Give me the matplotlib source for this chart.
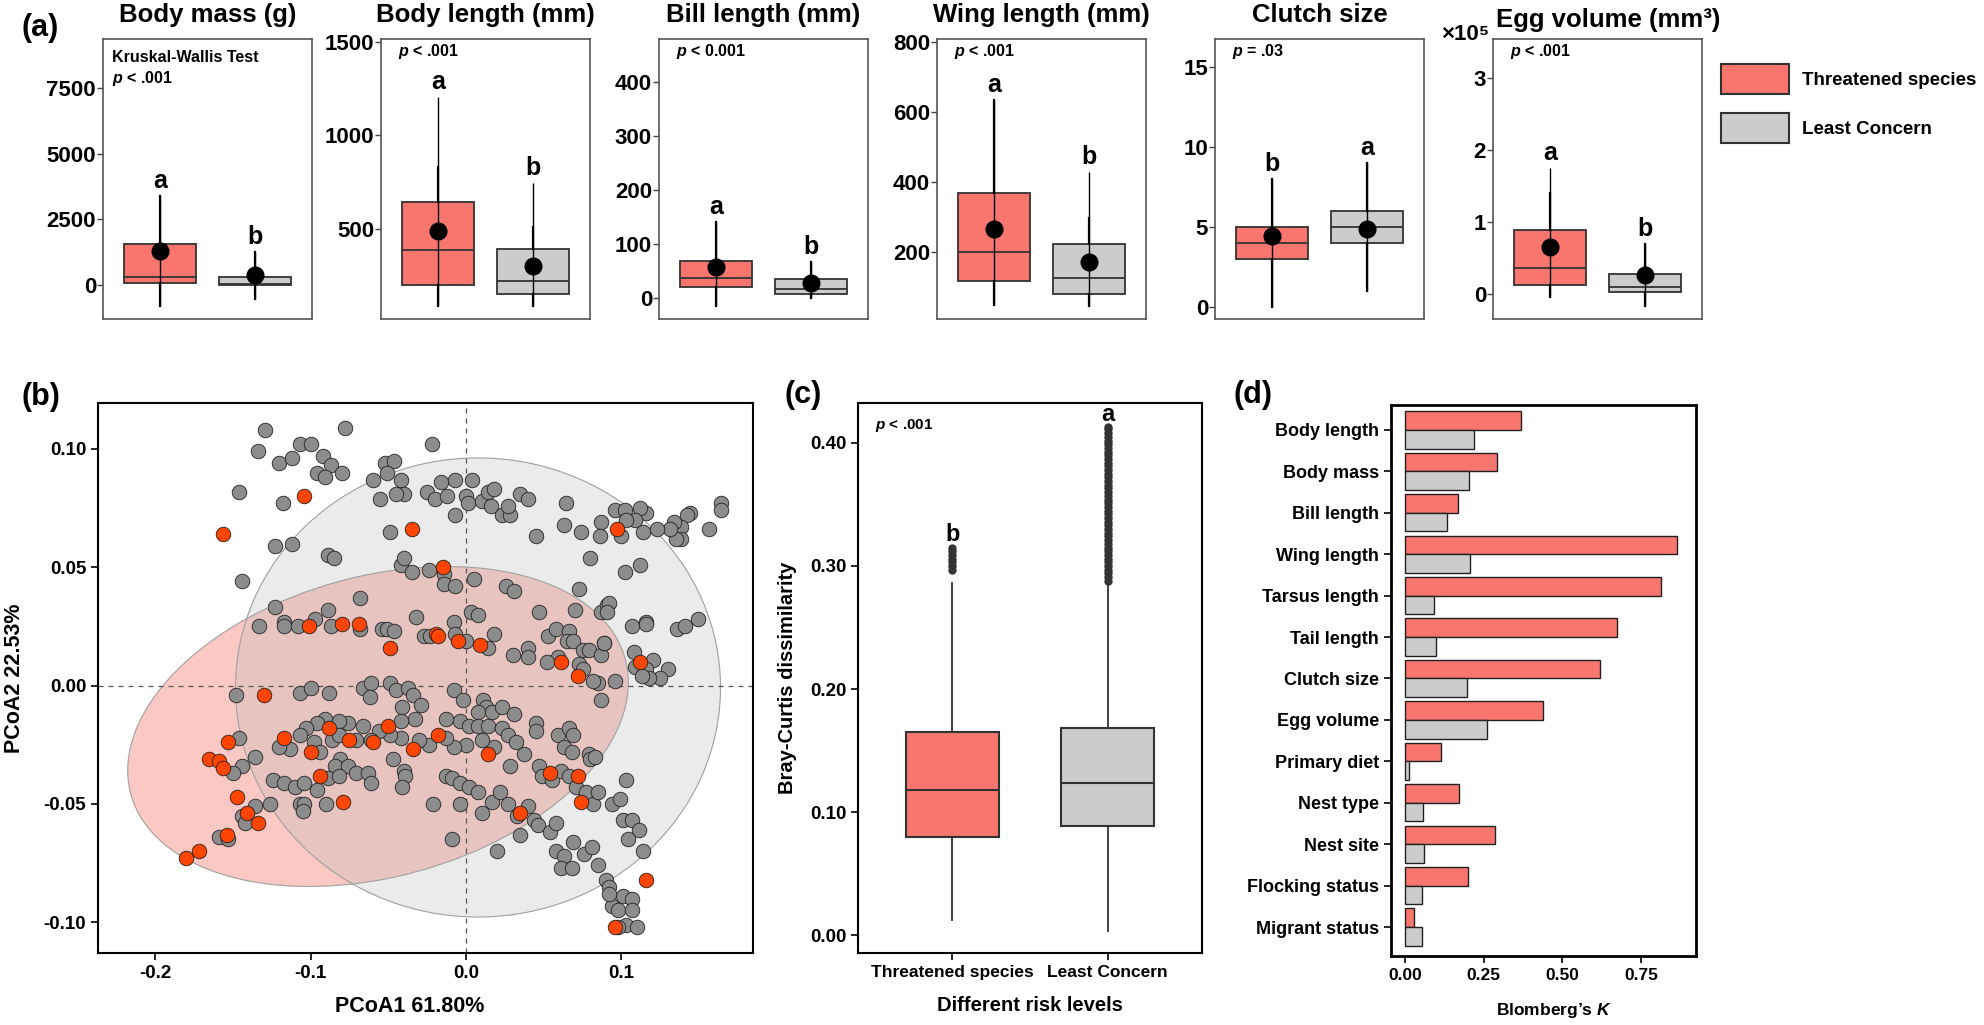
import numpy as np
import matplotlib.pyplot as plt
from matplotlib.patches import Ellipse, Patch

plt.rcParams['font.family'] = ['Liberation Sans', 'DejaVu Sans']
plt.rcParams['font.weight'] = 'bold'
plt.rcParams['axes.unicode_minus'] = False
plt.rcParams['mathtext.fontset'] = 'custom'
plt.rcParams['mathtext.rm'] = 'Liberation Sans:bold'
plt.rcParams['mathtext.it'] = 'Liberation Sans:italic:bold'
plt.rcParams['mathtext.bf'] = 'Liberation Sans:bold'

RED = '#F8766D'
GREY = '#CCCCCC'
EDGE = '#333333'

# ---------------- (a) trait boxplots ----------------
traits = ["Body mass (g)", "Body length (mm)", "Bill length (mm)",
          "Wing length (mm)", "Clutch size", "Egg volume (mm³)"]
thr_q1 = [76, 203, 20, 117, 3, 0.125]
thr_med = [304, 389, 37, 200, 4, 0.36]
thr_q3 = [1560, 645, 68.5, 369, 5, 0.89]
thr_mean = [1294, 490, 57, 266, 4.44, 0.65]
thr_lo = [-800, 91, -15, 50, 0, -0.05]
thr_hi = [3387, 1205, 141, 634, 8, 1.75]
thr_whi = [3387, 832, 141, 634, 8, 1.4]
lc_q1 = [10, 155, 8, 80, 4, 0.03]
lc_med = [38, 224, 17, 126, 5, 0.09]
lc_q3 = [304, 394, 35, 223, 6, 0.27]
lc_mean = [380, 304, 28, 171, 4.9, 0.26]
lc_lo = [-533, 91, 0, 45, 1, -0.17]
lc_hi = [1256, 746, 67, 429, 9, 0.69]
lc_whi = [1256, 512, 67, 297, 9, 0.69]
letters_thr = ['a', 'a', 'a', 'a', 'b', 'a']
letters_lc = ['b', 'b', 'b', 'b', 'a', 'b']
p_texts = ['$p$ < .001', '$p$ < .001', '$p$ < 0.001', '$p$ < .001', '$p$ = .03', '$p$ < .001']
ylims = [(-1294, 9360), (21, 1514), (-39, 480), (9, 808), (-0.75, 16.75), (-0.35, 3.54)]
yticks = [[0, 2500, 5000, 7500], [500, 1000, 1500], [0, 100, 200, 300, 400],
          [200, 400, 600, 800], [0, 5, 10, 15], [0, 1, 2, 3]]

# ---------------- (b) PCoA points ----------------
lc_pts = [
    (-0.129, 0.108), (-0.078, 0.109), (-0.134, 0.099), (-0.107, 0.102), (-0.100, 0.102), (-0.120, 0.094),
    (-0.112, 0.096), (-0.092, 0.097), (-0.087, 0.093), (-0.096, 0.090), (-0.091, 0.088), (-0.080, 0.090),
    (-0.146, 0.082), (-0.118, 0.077), (-0.022, 0.102), (-0.052, 0.094), (-0.046, 0.095), (-0.051, 0.090),
    (-0.060, 0.087), (-0.042, 0.087), (-0.040, 0.081), (-0.045, 0.081), (-0.055, 0.079), (-0.025, 0.082),
    (-0.020, 0.079), (-0.016, 0.086), (-0.007, 0.087), (-0.012, 0.080), (0.004, 0.087), (0.000, 0.080),
    (0.001, 0.077), (-0.007, 0.072), (0.010, 0.078), (0.014, 0.082), (0.018, 0.083), (0.016, 0.076),
    (0.023, 0.072), (0.028, 0.072), (0.027, 0.076), (0.035, 0.081), (0.040, 0.079), (0.064, 0.077),
    (0.063, 0.068), (0.074, 0.065), (0.087, 0.069), (0.086, 0.063), (0.045, 0.063), (0.080, 0.054),
    (0.096, 0.074), (-0.049, 0.065), (-0.123, 0.059), (-0.112, 0.060), (-0.089, 0.055), (-0.085, 0.054),
    (-0.144, 0.044), (-0.042, 0.051), (-0.040, 0.054), (-0.035, 0.048), (-0.024, 0.049), (-0.014, 0.047),
    (-0.014, 0.043), (-0.007, 0.042), (0.005, 0.045), (0.026, 0.042), (0.031, 0.040), (0.073, 0.041),
    (-0.068, 0.037), (-0.123, 0.033), (-0.089, 0.032), (-0.032, 0.029), (-0.008, 0.027), (-0.007, 0.022),
    (0.003, 0.031), (0.008, 0.030), (0.047, 0.031), (0.070, 0.032), (0.087, 0.031), (0.091, 0.034),
    (-0.133, 0.025), (-0.117, 0.027), (-0.117, 0.025), (-0.108, 0.025), (-0.097, 0.028), (-0.087, 0.025),
    (-0.068, 0.024), (-0.054, 0.024), (-0.051, 0.024), (-0.046, 0.023), (-0.027, 0.021), (-0.023, 0.021),
    (0.000, 0.019), (0.018, 0.022), (0.014, 0.016), (0.030, 0.013), (0.040, 0.016), (0.040, 0.012),
    (0.053, 0.021), (0.058, 0.024), (0.059, 0.012), (0.052, 0.010), (0.066, 0.023), (0.065, 0.019),
    (0.069, 0.019), (0.075, 0.015), (0.079, 0.015), (0.087, 0.013), (0.089, 0.018), (0.073, 0.009),
    (0.075, 0.007),
    (-0.148, -0.004), (-0.107, -0.003), (-0.100, -0.001), (-0.088, -0.003), (-0.066, -0.001), (-0.061, 0.001),
    (-0.062, -0.005), (-0.049, 0.001), (-0.045, -0.002), (-0.037, -0.001), (-0.034, -0.004), (-0.029, -0.008),
    (-0.041, -0.009), (-0.008, -0.002), (-0.002, -0.006), (0.011, -0.006), (0.013, -0.009), (0.008, -0.011),
    (0.017, -0.011), (0.023, -0.009), (0.031, -0.012), (-0.013, -0.014), (-0.004, -0.015), (0.002, -0.017),
    (0.008, -0.017), (0.014, -0.017), (0.023, -0.018), (0.027, -0.021), (0.032, -0.024), (0.045, -0.016),
    (0.045, -0.019), (0.059, -0.021), (0.066, -0.018), (0.069, -0.021), (0.063, -0.026), (0.068, -0.028),
    (0.079, -0.029), (0.080, -0.031), (0.037, -0.029), (0.028, -0.034), (0.018, -0.026), (0.010, -0.023),
    (0.000, -0.025), (-0.008, -0.026), (-0.013, -0.022), (-0.024, -0.025), (-0.030, -0.023), (-0.033, -0.014),
    (-0.042, -0.015), (-0.042, -0.022), (-0.049, -0.021), (-0.056, -0.019), (-0.066, -0.017), (-0.076, -0.016),
    (-0.082, -0.015), (-0.091, -0.014), (-0.096, -0.016), (-0.103, -0.018), (-0.107, -0.021), (-0.113, -0.027),
    (-0.120, -0.026), (-0.136, -0.030), (-0.146, -0.022), (-0.144, -0.034), (-0.150, -0.037), (-0.098, -0.024),
    (-0.094, -0.028), (-0.086, -0.023), (-0.082, -0.021), (-0.071, -0.023), (-0.061, -0.023), (-0.081, -0.031),
    (-0.084, -0.034), (-0.076, -0.034), (-0.071, -0.037), (-0.063, -0.037), (-0.061, -0.041), (-0.047, -0.031),
    (-0.040, -0.036), (-0.039, -0.038), (-0.041, -0.043), (-0.124, -0.040), (-0.117, -0.041), (-0.110, -0.043),
    (-0.104, -0.041), (-0.096, -0.044), (-0.089, -0.039), (-0.082, -0.038), (-0.126, -0.050), (-0.107, -0.050),
    (-0.104, -0.050), (-0.105, -0.053), (-0.090, -0.050), (-0.136, -0.051), (-0.144, -0.055), (-0.142, -0.058),
    (-0.159, -0.064), (-0.153, -0.065), (-0.013, -0.038), (-0.009, -0.039), (-0.004, -0.041), (0.002, -0.043),
    (0.008, -0.045), (-0.021, -0.050), (-0.004, -0.050), (0.010, -0.054), (0.017, -0.049), (0.022, -0.045),
    (0.027, -0.050), (0.033, -0.055), (0.040, -0.051), (0.044, -0.057), (0.035, -0.063), (0.046, -0.059),
    (0.054, -0.062), (0.058, -0.058), (0.058, -0.070), (0.063, -0.072), (0.069, -0.066), (0.061, -0.077),
    (0.068, -0.077), (0.076, -0.071), (0.081, -0.068), (0.085, -0.076), (0.090, -0.082), (0.092, -0.085),
    (0.094, -0.093), (-0.009, -0.065), (0.020, -0.070), (0.047, -0.034), (0.049, -0.038), (0.055, -0.040),
    (0.061, -0.036), (0.066, -0.038), (0.071, -0.043), (0.077, -0.045), (0.082, -0.050), (0.085, -0.045),
    (0.094, -0.050), (0.083, -0.030), (0.085, 0.001), (0.087, -0.006), (0.082, 0.002), (0.096, 0.002),
    (0.164, 0.077), (0.164, 0.074), (0.156, 0.066), (0.144, 0.073), (0.142, 0.072), (0.138, 0.067),
    (0.134, 0.069), (0.138, 0.062), (0.135, 0.062), (0.131, 0.066), (0.123, 0.066), (0.116, 0.073),
    (0.112, 0.075), (0.109, 0.070), (0.114, 0.065), (0.102, 0.074), (0.103, 0.070), (0.100, 0.063),
    (0.112, 0.051), (0.102, 0.048), (0.092, 0.035), (0.091, 0.031), (0.107, 0.025), (0.116, 0.027),
    (0.116, 0.026), (0.136, 0.024), (0.141, 0.025), (0.149, 0.028), (0.089, 0.018), (0.108, 0.014),
    (0.120, 0.011), (0.109, 0.008), (0.116, 0.007), (0.130, 0.007), (0.125, 0.003), (0.118, 0.003),
    (0.113, 0.004), (0.103, -0.040), (0.099, -0.048), (0.101, -0.057), (0.107, -0.057), (0.111, -0.061),
    (0.104, -0.065), (0.114, -0.070), (0.101, -0.089), (0.107, -0.090), (0.103, -0.101), (0.110, -0.102),
    (0.098, -0.095), (0.107, -0.095), (0.092, -0.088), (0.098, -0.102),
]
thr_pts = [
    (-0.104, 0.080), (-0.156, 0.064), (-0.035, 0.066), (-0.015, 0.050), (0.097, 0.066), (-0.101, 0.025),
    (-0.080, 0.026), (-0.069, 0.026), (-0.049, 0.016), (-0.019, 0.022), (-0.018, 0.021), (-0.005, 0.019),
    (0.009, 0.017), (0.061, 0.010), (0.072, 0.004), (-0.130, -0.004), (-0.153, -0.024), (-0.117, -0.022),
    (-0.100, -0.028), (-0.088, -0.018), (-0.075, -0.023), (-0.060, -0.024), (-0.050, -0.017), (-0.034, -0.027),
    (-0.018, -0.021), (0.014, -0.029), (0.054, -0.037), (0.072, -0.038), (0.074, -0.049), (-0.165, -0.031),
    (-0.159, -0.032), (-0.156, -0.035), (-0.147, -0.047), (-0.141, -0.054), (-0.134, -0.058), (-0.154, -0.063),
    (-0.172, -0.070), (-0.180, -0.073), (-0.094, -0.038), (-0.079, -0.049), (0.096, -0.102), (0.035, -0.054),
    (0.112, 0.010), (0.116, -0.082),
]
# confidence ellipses: centre x, centre y, sd x, sd y, correlation
thr_ellipse = (-0.0566, -0.0173, 0.161, 0.0676, 0.275)
lc_ellipse = (0.0077, -0.0008, 0.156, 0.097, 0.0)

# ---------------- (c) Bray-Curtis ----------------
risk_levels = ["Threatened species", "Least Concern"]
bc_q1 = [0.080, 0.089]
bc_med = [0.118, 0.124]
bc_q3 = [0.165, 0.168]
bc_lo = [0.012, 0.003]
bc_hi = [0.286, 0.285]
bc_out_thr = [0.297, 0.300, 0.303, 0.306, 0.309, 0.312, 0.315]
bc_out_lc = [0.288, 0.291, 0.294, 0.297, 0.300, 0.303, 0.306, 0.309, 0.312, 0.315, 0.318, 0.321,
             0.324, 0.327, 0.330, 0.333, 0.336, 0.339, 0.342, 0.345, 0.348, 0.351, 0.354, 0.357,
             0.360, 0.363, 0.366, 0.369, 0.372, 0.375, 0.378, 0.381, 0.384, 0.387, 0.390, 0.393,
             0.396, 0.399, 0.402, 0.405, 0.408, 0.411, 0.413]
bc_letters = ['b', 'a']

# ---------------- (d) Blomberg's K ----------------
k_traits = ["Body length", "Body mass", "Bill length", "Wing length", "Tarsus length", "Tail length",
            "Clutch size", "Egg volume", "Primary diet", "Nest type", "Nest site", "Flocking status",
            "Migrant status"]
k_thr = [0.368, 0.292, 0.168, 0.865, 0.815, 0.673, 0.621, 0.439, 0.115, 0.170, 0.286, 0.200, 0.030]
k_lc = [0.220, 0.202, 0.132, 0.205, 0.091, 0.097, 0.196, 0.259, 0.014, 0.057, 0.060, 0.054, 0.055]

W, H = 1984, 1025
fig = plt.figure(figsize=(W / 100, H / 100), dpi=100)


def px_axes(l, t, r, b):
    return fig.add_axes([l / W, 1 - b / H, (r - l) / W, (b - t) / H])


# top row
lefts = [103, 381, 659, 937, 1215, 1493]
for i, name in enumerate(traits):
    ax = px_axes(lefts[i], 39, lefts[i] + 209, 319)
    stats = [dict(q1=thr_q1[i], med=thr_med[i], q3=thr_q3[i], whislo=thr_lo[i], whishi=thr_whi[i], fliers=[]),
             dict(q1=lc_q1[i], med=lc_med[i], q3=lc_q3[i], whislo=lc_lo[i], whishi=lc_whi[i], fliers=[])]
    bp = ax.bxp(stats, positions=[1, 2], widths=0.75, patch_artist=True, showcaps=False,
                boxprops=dict(edgecolor=EDGE, linewidth=1.3),
                medianprops=dict(color=EDGE, linewidth=1.3),
                whiskerprops=dict(color='black', linewidth=1.6))
    for patch, c in zip(bp['boxes'], [RED, GREY]):
        patch.set_facecolor(c)
    ax.vlines([1, 2], [thr_lo[i], lc_lo[i]], [thr_hi[i], lc_hi[i]], color='black', lw=1.0, zorder=4)
    ax.plot([1, 2], [thr_mean[i], lc_mean[i]], 'o', color='black', ms=12, zorder=5)
    for pos, hi, let in [(1, thr_hi[i], letters_thr[i]), (2, lc_hi[i], letters_lc[i])]:
        ax.annotate(let, (pos, hi), xytext=(0, 2), textcoords='offset points',
                    ha='center', va='bottom', fontsize=18, fontweight='bold')
    ax.set_xlim(0.4, 2.6)
    ax.set_ylim(*ylims[i])
    ax.set_yticks(yticks[i])
    ax.set_xticks([])
    ax.tick_params(axis='y', length=4, width=1, color='#444444', labelsize=16, pad=1)
    for s in ax.spines.values():
        s.set_color('#555555')
        s.set_linewidth(1.2)
    if i == 5:
        ax.set_title(name, fontsize=18.5, fontweight='bold', pad=9, x=0.553)
        ax.text(-0.02, 1.015, '×10⁵', transform=ax.transAxes, ha='right', va='center', fontsize=16)
    else:
        ax.set_title(name, fontsize=18.5, fontweight='bold', pad=12)
    if i == 0:
        ax.text(0.043, 0.935, 'Kruskal-Wallis Test', transform=ax.transAxes, fontsize=11.5, va='center')
        ax.text(0.043, 0.86, p_texts[i], transform=ax.transAxes, fontsize=11.5, va='center')
    else:
        ax.text(0.081, 0.954, p_texts[i], transform=ax.transAxes, fontsize=11.5, va='center')

fig.legend(handles=[Patch(facecolor=RED, edgecolor=EDGE, lw=1.5), Patch(facecolor=GREY, edgecolor=EDGE, lw=1.5)],
           labels=["Threatened species", "Least Concern"], loc='upper left',
           bbox_to_anchor=(1721 / W, 1 - 64 / H), frameon=False, fontsize=13.5,
           handlelength=3.6, handleheight=2.1, handletextpad=0.7, labelspacing=1.0,
           borderpad=0, borderaxespad=0)

# (b) PCoA
axb = px_axes(98, 403, 753, 953)
for (cx, cy, sx, sy, rho), fc in [(thr_ellipse, RED), (lc_ellipse, '#BDBDBD')]:
    cov = np.array([[sx ** 2, rho * sx * sy], [rho * sx * sy, sy ** 2]])
    vals, vecs = np.linalg.eigh(cov)
    ang = np.degrees(np.arctan2(vecs[1, 1], vecs[0, 1]))
    axb.add_patch(Ellipse((cx, cy), 2 * np.sqrt(vals[1]), 2 * np.sqrt(vals[0]), angle=ang,
                          facecolor=fc, alpha=0.4 if fc == RED else 0.3, edgecolor='none', zorder=1))
    axb.add_patch(Ellipse((cx, cy), 2 * np.sqrt(vals[1]), 2 * np.sqrt(vals[0]), angle=ang,
                          facecolor='none', edgecolor='#A0A0A0', lw=0.8, zorder=1.5))
axb.axhline(0, color='#555555', lw=0.9, ls=(0, (4, 4)), zorder=1.6)
axb.axvline(0, color='#555555', lw=0.9, ls=(0, (4, 4)), zorder=1.6)
lc_arr = np.array(lc_pts)
thr_arr = np.array(thr_pts)
axb.scatter(lc_arr[:, 0], lc_arr[:, 1], s=110, c='#8C8C8C', edgecolors='#222222', linewidths=0.6, zorder=3)
axb.scatter(thr_arr[:, 0], thr_arr[:, 1], s=110, c='#FF4500', edgecolors='#222222', linewidths=0.6, zorder=4)
axb.set_xlim(-0.2367, 0.1846)
axb.set_ylim(-0.113, 0.1194)
axb.set_xticks([-0.2, -0.1, 0.0, 0.1])
axb.set_xticklabels(['-0.2', '-0.1', '0.0', '0.1'])
axb.set_yticks([-0.10, -0.05, 0.0, 0.05, 0.10])
axb.set_yticklabels(['-0.10', '-0.05', '0.00', '0.05', '0.10'])
axb.tick_params(length=5, width=1.2, labelsize=13.5)
for s in axb.spines.values():
    s.set_linewidth(1.5)
axb.set_xlabel('PCoA1 61.80%', fontsize=15.5, fontweight='bold')
axb.set_ylabel('PCoA2 22.53%', fontsize=15.5, fontweight='bold')
axb.xaxis.set_label_coords(0.476, -0.078)
axb.yaxis.set_label_coords(-0.112, 0.5)

# (c) Bray-Curtis boxplot
axc = px_axes(858, 403, 1202, 953)
cstats = [dict(q1=bc_q1[k], med=bc_med[k], q3=bc_q3[k], whislo=bc_lo[k], whishi=bc_hi[k],
               fliers=[bc_out_thr, bc_out_lc][k]) for k in range(2)]
bpc = axc.bxp(cstats, positions=[1, 2], widths=0.6, patch_artist=True, showcaps=False,
              boxprops=dict(edgecolor=EDGE, linewidth=1.5),
              medianprops=dict(color=EDGE, linewidth=1.5),
              whiskerprops=dict(color=EDGE, linewidth=1.3),
              flierprops=dict(marker='o', ms=5, markerfacecolor=EDGE, markeredgecolor=EDGE))
for patch, c in zip(bpc['boxes'], [RED, GREY]):
    patch.set_facecolor(c)
for pos, out, let in [(1, bc_out_thr, bc_letters[0]), (2, bc_out_lc, bc_letters[1])]:
    axc.annotate(let, (pos, max(out)), xytext=(0, 1), textcoords='offset points',
                 ha='center', va='bottom', fontsize=17, fontweight='bold')
axc.set_xlim(0.393, 2.607)
axc.set_ylim(-0.0146, 0.4325)
axc.set_xticks([1, 2])
axc.set_xticklabels(risk_levels)
axc.set_yticks([0.0, 0.1, 0.2, 0.3, 0.4])
axc.set_yticklabels(['0.00', '0.10', '0.20', '0.30', '0.40'])
axc.tick_params(length=5, width=1.2, labelsize=13.5)
axc.tick_params(axis='x', labelsize=12.5)
for s in axc.spines.values():
    s.set_linewidth(1.5)
axc.text(0.05, 0.96, '$p$ < .001', transform=axc.transAxes, fontsize=11, va='center')
axc.set_xlabel('Different risk levels', fontsize=14.5, fontweight='bold')
axc.set_ylabel('Bray-Curtis dissimilarity', fontsize=14.5, fontweight='bold')
axc.xaxis.set_label_coords(0.5, -0.078)
axc.yaxis.set_label_coords(-0.177, 0.5)

# (d) Blomberg's K
axd = px_axes(1391, 405, 1696, 956)
yk = np.arange(len(k_traits))
axd.barh(yk - 0.225, k_thr, height=0.45, color=RED, edgecolor='#222222', lw=1.0)
axd.barh(yk + 0.225, k_lc, height=0.45, color=GREY, edgecolor='#222222', lw=1.0)
axd.set_xlim(-0.0446, 0.925)
axd.set_ylim(12.7, -0.6)
axd.set_yticks(yk)
axd.set_yticklabels(k_traits)
axd.set_xticks([0, 0.25, 0.5, 0.75])
axd.set_xticklabels(['0.00', '0.25', '0.50', '0.75'])
axd.tick_params(length=5, width=1.2, labelsize=13)
axd.tick_params(axis='x', labelsize=12.5)
for s in axd.spines.values():
    s.set_linewidth(2)
axd.set_xlabel('Blomberg’s $K$', fontsize=12.5, fontweight='bold')
axd.xaxis.set_label_coords(0.534, -0.082)

# panel tags
for tag, x, y in [('(a)', 40, 28), ('(b)', 41, 397), ('(c)', 803, 395), ('(d)', 1253, 395)]:
    fig.text(x / W, 1 - y / H, tag, fontsize=22, fontweight='bold', ha='center', va='center')

fig.savefig('out.png', dpi=100)
